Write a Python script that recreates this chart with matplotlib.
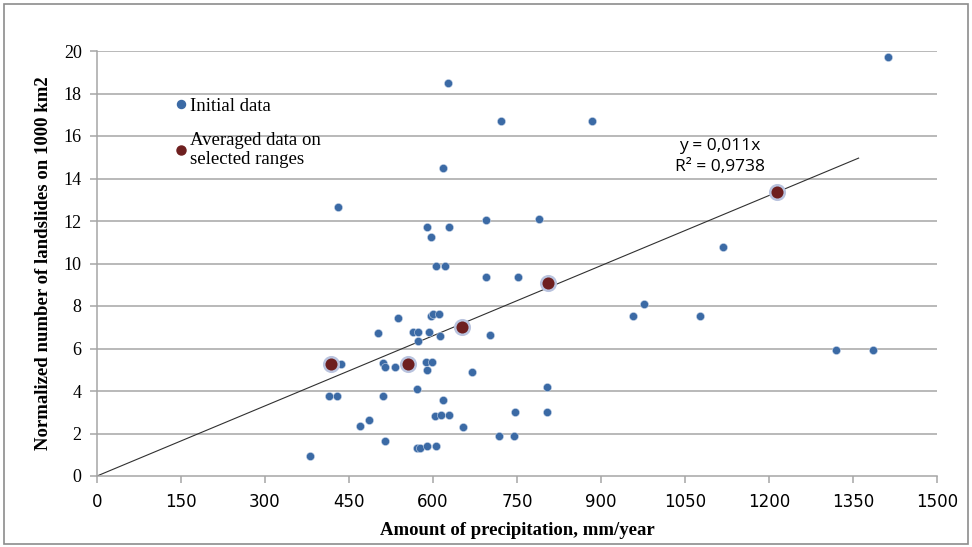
import matplotlib.pyplot as plt
import matplotlib.patches as patches
from matplotlib.lines import Line2D

# initial data (precipitation mm/year, landslides per 1000 km2)
precip = [380, 415, 428, 431, 436, 470, 486, 502, 510, 511, 514, 515, 533, 538,
          565, 571, 572, 574, 574, 577, 587, 590, 590, 590, 593, 596, 597, 598,
          600, 604, 606, 606, 611, 612, 614, 618, 618, 622, 626, 628, 629, 653,
          670, 694, 694, 702, 717, 721, 745, 746, 751, 789, 803, 803, 884, 957,
          976, 1077, 1117, 1319, 1386, 1412]
landslides = [0.93, 3.76, 3.76, 12.64, 5.27, 2.37, 2.62, 6.71, 5.30, 3.78, 5.14, 1.63, 5.14, 7.42,
              6.79, 1.30, 4.09, 6.76, 6.35, 1.30, 5.38, 11.70, 4.99, 1.41, 6.79, 7.53, 11.23, 5.38,
              7.62, 2.84, 9.90, 1.41, 7.61, 6.59, 2.87, 14.51, 3.58, 9.90, 18.48, 11.70, 2.87, 2.32,
              4.88, 12.05, 9.35, 6.64, 1.90, 16.72, 1.90, 3.00, 9.35, 12.09, 4.20, 3.00, 16.72, 7.53,
              8.09, 7.53, 10.76, 5.93, 5.93, 19.73]

# averaged data on selected ranges
avg_precip = [418, 556, 651, 806, 1214]
avg_landslides = [5.27, 5.25, 7.03, 9.07, 13.38]

slope = 0.011
trend_x = [0, 1360]

x_ticks = list(range(0, 1501, 150))
y_ticks = list(range(0, 21, 2))

blue = '#3b6aa5'
red = '#6e1f1f'
grid_c = '#a6a6a6'

fig = plt.figure(figsize=(9.72, 5.47), dpi=100)
ax = fig.add_axes([97 / 972, 71 / 547, 840 / 972, 425 / 547])

for yv in y_ticks[1:]:
    ax.axhline(yv, color=grid_c, lw=1.1, zorder=0)

ax.plot(trend_x, [slope * v for v in trend_x], color='#303030', lw=0.8, zorder=2)

ax.scatter(precip, landslides, s=34, color=blue, edgecolor='#c5d3e8',
           linewidth=0.4, zorder=3)
ax.scatter(avg_precip, avg_landslides, s=110, color=red, edgecolor='#b9c3de',
           linewidth=1.8, zorder=4)

ax.set_xlim(0, 1500)
ax.set_ylim(0, 20)
ax.set_xticks(x_ticks)
ax.set_yticks(y_ticks)
ax.set_xticklabels([str(v) for v in x_ticks],
                   family=['Liberation Sans Narrow', 'DejaVu Sans'], fontsize=12)
ax.set_yticklabels([str(v) for v in y_ticks], family='Liberation Serif', fontsize=13)

for side in ['top', 'right']:
    ax.spines[side].set_visible(False)
for side in ['left', 'bottom']:
    ax.spines[side].set_color(grid_c)
    ax.spines[side].set_linewidth(1.1)
ax.tick_params(axis='both', direction='out', length=5, color=grid_c, width=1.1)
ax.tick_params(axis='x', pad=7)
ax.tick_params(axis='y', pad=6)

ax.set_xlabel('Amount of precipitation, mm/year', family='Liberation Serif',
              fontweight='bold', fontsize=13.5, labelpad=8)
ax.set_ylabel('Normalized number of landslides on 1000 km2', family='Liberation Serif',
              fontweight='bold', fontsize=13.5, labelpad=8)

handles = [Line2D([], [], ls='none', marker='o', ms=5.8, color=blue, mec=blue),
           Line2D([], [], ls='none', marker='o', ms=6.5, color=red, mec=red)]
ax.legend(handles, ['Initial data', 'Averaged data on\nselected ranges'],
          loc='upper left', bbox_to_anchor=(0.07, 0.93), frameon=False,
          prop={'family': 'Liberation Serif', 'size': 13.5},
          handletextpad=0.0, handlelength=0.9, labelspacing=0.9)

ax.text(1112, 15.05, 'y = 0,011x\nR² = 0,9738', ha='center', va='center',
        family='Open Sans', fontsize=12.5, linespacing=1.4)

fig.patches.append(patches.Rectangle((4 / 972, 3 / 547), 964 / 972, 540 / 547,
                                     transform=fig.transFigure, fill=False,
                                     edgecolor='#8c8c8c', linewidth=1.2))

fig.savefig('out.png', dpi=100)
